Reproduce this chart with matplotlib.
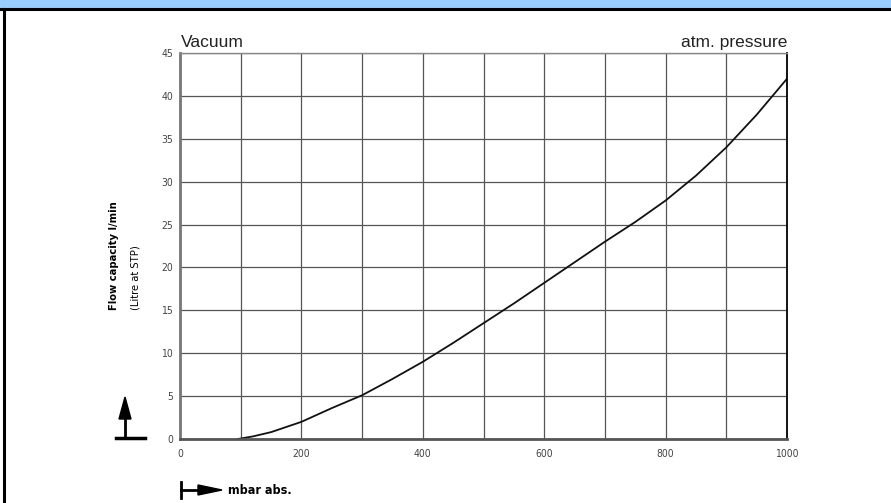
import matplotlib
matplotlib.use("Agg")
import matplotlib.pyplot as plt
from matplotlib import font_manager
from matplotlib.patches import Rectangle, Polygon
from matplotlib.lines import Line2D

plt.rcParams['font.family'] = ['Liberation Sans', 'DejaVu Sans']

# pressure (mbar abs.) and flow capacity (l/min)
pressure = [95, 120, 150, 200, 250, 300, 350, 400, 450, 500, 550, 600,
            650, 700, 750, 800, 850, 900, 950, 1000]
flow = [0.0, 0.3, 0.8, 2.0, 3.6, 5.1, 7.0, 9.0, 11.2, 13.5, 15.8, 18.2,
        20.6, 23.0, 25.3, 27.8, 30.7, 34.0, 37.8, 42.0]

xticks = [0, 200, 400, 600, 800, 1000]
yticks = [0, 5, 10, 15, 20, 25, 30, 35, 40, 45]

# is any condensed face installed?
narrow = [f for f in font_manager.fontManager.ttflist
          if f.stretch in ('condensed', 'semi-condensed')]
if narrow:
    NARROW = dict(family=narrow[0].name, stretch=narrow[0].stretch)
    nscale = 1.0
else:
    NARROW = dict(family='Liberation Sans')
    nscale = 0.85

W, H = 891, 503
fig = plt.figure(figsize=(W / 100, H / 100), dpi=100)

def fx(x):
    return x / W

def fy(y):
    return 1 - y / H

# page frame: blue header band, black rule, left border
fig.add_artist(Rectangle((0, fy(8)), 1, 8 / H, transform=fig.transFigure,
                         facecolor='#99ccff', edgecolor='none'))
fig.add_artist(Line2D([0, 1], [fy(9), fy(9)], transform=fig.transFigure,
                      color='black', lw=2.2))
fig.add_artist(Line2D([fx(4), fx(4)], [fy(9), 0], transform=fig.transFigure,
                      color='black', lw=2.2))

ax = fig.add_axes([fx(180), fy(439), fx(787) - fx(180), (439 - 53) / H])
ax.plot(pressure, flow, color='#111111', lw=1.3)

ax.set_xlim(0, 1000)
ax.set_ylim(0, 45)
ax.set_xticks(xticks)
ax.set_yticks(yticks)
ax.set_xticks(range(100, 1000, 100), minor=True)
ax.grid(True, which='both', color='#555555', lw=0.9)
ax.tick_params(which='both', length=0)
ax.tick_params(axis='x', pad=7)
ax.tick_params(axis='y', pad=5)

for lab in ax.get_xticklabels() + ax.get_yticklabels():
    lab.set_fontproperties(font_manager.FontProperties(size=7.5 * nscale, **NARROW))
    lab.set_color('#444444')

ax.spines['left'].set_color('#777777')
ax.spines['left'].set_linewidth(2)
ax.spines['bottom'].set_color('#555555')
ax.spines['bottom'].set_linewidth(2)
ax.spines['top'].set_color('#888888')
ax.spines['top'].set_linewidth(1)
ax.spines['right'].set_color('black')
ax.spines['right'].set_linewidth(1.3)

fig.text(fx(181), fy(47), 'Vacuum', fontsize=12.5, color='#222222',
         ha='left', va='baseline')
fig.text(fx(787), fy(47), 'atm. pressure', fontsize=12.5, color='#222222',
         ha='right', va='baseline')

# y label, two lines, rotated
fig.text(fx(114), fy(310), 'Flow capacity l/min', rotation=90,
         fontproperties=font_manager.FontProperties(size=8 * nscale, weight='bold', **NARROW),
         ha='center', va='bottom')
fig.text(fx(135), fy(310), '(Litre at STP)', rotation=90,
         fontproperties=font_manager.FontProperties(size=8 * nscale, **NARROW),
         ha='center', va='bottom')

# up arrow symbol
fig.add_artist(Line2D([fx(116), fx(145)], [fy(438), fy(438)],
                      transform=fig.transFigure, color='black', lw=2.5))
fig.add_artist(Line2D([fx(125), fx(125)], [fy(438), fy(415)],
                      transform=fig.transFigure, color='black', lw=2))
fig.add_artist(Polygon([(fx(119), fy(419)), (fx(131), fy(419)),
                        (fx(125), fy(397))], closed=True,
                       transform=fig.transFigure, color='black'))

# right arrow symbol under x axis
fig.add_artist(Line2D([fx(181), fx(181)], [fy(482), fy(498)],
                      transform=fig.transFigure, color='black', lw=2))
fig.add_artist(Line2D([fx(181), fx(202)], [fy(490), fy(490)],
                      transform=fig.transFigure, color='black', lw=2))
fig.add_artist(Polygon([(fx(198), fy(485)), (fx(198), fy(495)),
                        (fx(222), fy(490))], closed=True,
                       transform=fig.transFigure, color='black'))
fig.text(fx(228), fy(490), 'mbar abs.',
         fontproperties=font_manager.FontProperties(size=9 * nscale, weight='bold', **NARROW),
         ha='left', va='center')

fig.savefig('out.png', dpi=100)
